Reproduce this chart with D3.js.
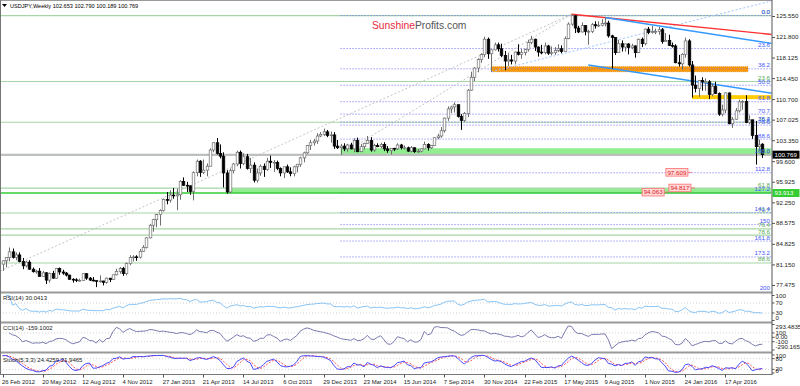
<!DOCTYPE html>
<html><head><meta charset="utf-8">
<script src="https://cdn.jsdelivr.net/npm/d3@7"></script>
<style>body{margin:0;background:#fff}svg{display:block}text{font-family:"Liberation Sans",Arial,sans-serif}</style>
</head><body><svg id="c" width="800" height="386"></svg>
<script>
// ---------------- DATA ----------------
const dateLabels = ["26 Feb 2012","20 May 2012","12 Aug 2012","4 Nov 2012","27 Jan 2013","21 Apr 2013","14 Jul 2013","6 Oct 2013","29 Dec 2013","23 Mar 2014","15 Jun 2014","7 Sep 2014","30 Nov 2014","22 Feb 2015","17 May 2015","9 Aug 2015","1 Nov 2015","24 Jan 2016","17 Apr 2016"];
const priceTicks = [125.55,121.8,118.125,114.45,110.7,107.025,103.35,99.6,95.925,92.25,88.575,84.825,81.15,77.475];

const closes = [81.80,82.40,83.40,82.40,82.85,81.65,80.90,81.55,80.30,79.85,
79.95,79.00,79.65,78.35,79.55,78.70,80.40,79.80,79.60,79.25,
78.50,78.40,78.30,78.30,79.50,78.70,78.35,78.25,78.10,78.20,
77.95,78.70,78.45,79.30,79.90,80.40,79.50,81.30,82.40,82.50,
82.45,83.50,84.20,85.90,88.15,89.15,90.05,90.80,92.75,92.65,
93.55,93.40,93.60,96.00,95.30,95.20,94.20,97.55,99.60,97.60,
98.00,98.70,101.60,102.90,101.00,100.50,97.50,94.10,97.90,99.10,
101.20,99.20,100.40,98.30,98.90,96.20,97.50,98.70,98.10,99.60,
99.40,99.40,98.30,97.50,98.60,97.70,97.40,98.60,99.05,100.20,
101.10,102.40,102.90,103.20,104.10,104.40,104.85,104.20,104.30,102.30,
102.00,102.30,101.80,102.50,101.80,103.30,101.30,102.20,102.80,103.30,
101.60,102.40,102.20,102.60,101.80,101.50,101.90,101.80,102.50,102.00,
102.00,101.40,102.00,101.30,101.40,101.80,102.60,102.00,102.40,103.80,
104.10,105.05,107.30,108.95,109.30,109.70,107.60,106.90,108.15,112.30,
114.60,116.25,117.75,118.65,121.40,118.80,119.50,120.40,119.70,118.50,
117.50,117.70,117.50,119.10,118.70,119.00,119.60,120.80,121.40,120.00,
119.10,119.00,120.20,118.90,119.00,119.40,119.70,119.20,121.50,124.10,
125.60,123.40,122.70,123.85,122.80,122.80,124.00,123.80,123.90,124.20,
124.30,122.00,121.70,119.00,120.60,120.00,120.55,119.90,120.20,119.00,
121.40,120.60,123.20,122.60,122.80,122.80,123.10,121.00,121.20,120.30,
120.20,117.20,117.00,118.70,121.10,116.80,113.20,112.60,114.00,113.80,
113.80,111.50,113.00,111.70,108.00,108.75,111.80,106.30,107.10,108.60,
110.20,110.30,106.50,107.00,104.20,102.20,102.50,100.769];

const highs = [81.87,82.45,84.18,84.00,83.30,83.30,82.30,81.80,81.90,80.60,
80.20,80.50,80.00,79.80,79.70,80.00,80.50,80.60,80.20,79.80,
79.30,78.70,78.70,78.60,79.60,79.60,78.90,78.90,78.30,79.20,
78.10,78.80,78.70,79.30,80.40,80.70,80.70,81.50,82.80,82.80,
82.80,83.90,84.60,86.00,88.40,89.30,90.20,91.00,92.90,94.10,
94.40,94.80,94.70,96.20,96.70,95.90,95.20,97.80,99.90,99.80,
99.90,99.20,101.90,103.00,103.74,102.60,101.20,98.00,98.30,99.30,
101.50,101.50,101.00,100.90,100.20,99.40,98.30,99.00,99.20,100.20,
100.60,99.80,99.70,98.50,98.60,99.00,98.50,98.80,99.10,100.40,
101.30,102.50,103.40,103.60,104.60,104.80,105.44,105.20,104.90,104.80,
103.40,102.70,102.80,102.70,102.90,103.70,103.80,102.70,102.90,104.10,
103.90,102.70,102.80,102.90,103.00,102.30,101.80,102.00,102.80,102.70,
102.40,102.20,102.30,102.10,101.80,101.90,103.10,102.80,102.50,103.90,
104.50,105.70,107.40,109.40,109.50,110.10,109.20,108.00,108.40,112.50,
115.60,116.40,118.00,118.90,121.85,121.70,119.60,120.80,120.80,120.60,
119.30,118.90,118.60,119.20,120.50,119.70,119.70,121.30,122.00,121.50,
120.10,120.40,120.80,120.40,120.10,120.00,120.50,120.30,121.90,124.40,
125.86,125.30,123.80,124.40,123.80,123.10,124.30,124.60,124.60,125.00,
125.30,124.70,122.20,121.70,121.30,121.20,120.60,120.70,120.60,120.30,
121.50,121.70,123.30,123.60,123.80,123.30,123.60,123.40,122.50,122.20,
120.80,120.50,118.60,118.90,121.69,121.40,117.50,114.90,114.00,114.60,
114.40,114.10,113.50,113.80,111.90,109.70,111.90,111.90,107.50,109.10,
110.60,110.50,111.40,107.80,107.00,106.80,103.50,102.79];

const lows = [80.00,80.62,81.70,82.20,81.90,81.55,80.30,80.60,80.20,79.70,
79.50,79.00,79.00,77.65,77.90,78.60,78.60,79.30,79.30,79.00,
78.40,77.90,78.00,78.10,78.20,78.40,78.20,78.10,77.10,77.90,
77.40,77.70,78.00,78.35,79.20,79.50,79.10,79.20,81.00,81.70,
81.80,82.20,83.40,84.00,85.80,87.00,87.80,88.10,90.60,91.90,
92.20,92.90,90.85,92.70,95.20,94.10,93.60,92.60,96.90,96.80,
97.30,96.90,98.70,101.20,100.80,100.10,94.90,93.79,93.90,97.40,
98.70,98.30,98.90,98.10,97.50,95.80,95.80,97.00,96.80,97.90,
98.40,97.70,98.00,96.90,96.60,97.50,96.90,96.90,97.60,98.60,
99.40,100.90,101.60,102.40,102.70,103.90,104.10,103.90,102.90,101.80,
101.80,100.75,101.40,101.30,101.70,101.20,101.20,101.20,101.70,102.70,
101.30,101.30,102.10,101.90,101.40,101.10,100.80,101.40,101.60,101.70,
101.70,101.30,101.20,101.10,101.10,101.20,101.80,101.50,101.80,102.30,
103.50,103.80,104.70,106.80,108.20,108.30,107.40,105.20,106.60,107.50,
112.20,113.90,115.50,117.20,118.20,117.90,115.57,119.40,119.20,118.20,
115.85,116.60,116.90,116.90,118.50,117.90,118.50,119.20,120.50,119.30,
118.30,118.70,118.70,118.60,118.50,118.60,119.10,118.90,119.20,121.40,
123.80,122.50,122.50,122.60,122.10,120.40,122.50,123.30,123.60,123.70,
123.70,121.70,116.15,118.60,119.00,119.20,119.20,118.70,119.60,118.10,
118.90,120.00,120.30,122.30,122.40,122.30,122.20,120.60,121.00,120.20,
119.90,117.10,116.50,115.97,118.10,116.50,110.98,111.90,111.10,112.20,
112.20,110.70,111.20,111.60,107.70,107.60,108.20,106.20,105.55,107.00,
108.30,108.80,106.40,106.20,103.60,99.00,101.50,100.189];

// weekly FX bars open at the prior week's close; first and last opens are read directly
const opens = [81.20, ...closes.slice(0, 226), 102.653];

const greenFibRatios = [0,23.6,38.2,50,61.8,70.7,76.4,78.6,88.6];
const greenFibAnchors = [125.62, 75.72];
const blueFibRatios = [0,23.6,38.2,50,61.8,70.7,76.4,78.6,88.6,100,112.8,127.2,141.4,150,161.8,173.2,200];
const blueFibAnchors = [125.62, 100.72];
const blueFibStart = 101;

const zones = [
  {from:101, to:null, hi:101.92, lo:100.72, color:"#90ee90"},
  {from:67, to:null, hi:94.75, lo:93.95, color:"#90ee90"},
  {from:146, to:222.7, hi:116.49, lo:115.60, color:"#ff9900"},
  {from:206, to:null, hi:111.40, lo:110.70, color:"#ffcc00"}
];
const trendLines = [
  {i0:-17, p0:75.57, i1:170, p1:125.86, color:"#c4c4c4", dash:"2,2", w:1},
  {i0:101, p0:100.75, i1:170, p1:125.86, color:"#c4c4c4", dash:"2,2", w:1},
  {i0:146, p0:115.57, i1:232, p1:128.58, color:"#9fc3ff", dash:"2,2", w:1},
  {i0:170, p0:125.86, i1:232, p1:122.13, color:"#ff3030", dash:null, w:1.4},
  {i0:180, p0:125.28, i1:232, p1:120.45, color:"#3399ff", dash:null, w:1.4},
  {i0:175, p0:116.79, i1:232, p1:111.55, color:"#3399ff", dash:null, w:1.4}
];
const priceTags = [{i:198.2, p:97.609},{i:199.1, p:94.817},{i:191.1, p:94.063}];
const lastPrice = 100.769, supportLine = 93.913;
const titleText = "USDJPY,Weekly  102.653 102.790 100.189 100.769";
const rsiLabel = "RSI(14) 30.0413", cciLabel = "CCI(14) -159.1002", stochLabel = "Stoch(5,3,3) 24.4259 21.9465";
const rsiTicks = [100,70,30,0], cciTicks = [293.4835,100,0,-100,-290.1653], stochTicks = [100,80,20,0];

// ---------------- SCALES ----------------
const svg = d3.select("#c");
const R = 771.5;
const x = d3.scaleLinear().domain([0,227]).range([2.5,762.3]);
const y = d3.scaleLinear().domain([77.475,125.55]).range([285,16]);
const yR = d3.scaleLinear().domain([0,100]).range([320.5,295.5]);
const yC = d3.scaleLinear().domain([-290.1653,293.4835]).range([350,324.5]);
const yS = d3.scaleLinear().domain([0,100]).range([373,355]);

svg.append("rect").attr("width",800).attr("height",386).attr("fill","#fff");
const defs = svg.append("defs");
function clip(id,y0,y1){defs.append("clipPath").attr("id",id).append("rect").attr("x",0.5).attr("y",y0).attr("width",R-0.5).attr("height",y1-y0);}
clip("cm",1,291.5); clip("cr",294,321.5); clip("cc",324,351.5); clip("cs",354,374);
const gm = svg.append("g").attr("clip-path","url(#cm)");

// zones
zones.forEach(z=>{
  const x0 = x(z.from), x1 = z.to==null ? R : x(z.to);
  gm.append("rect").attr("x",x0).attr("y",y(z.hi)).attr("width",x1-x0).attr("height",y(z.lo)-y(z.hi))
    .attr("fill",z.color).attr("stroke",z.color==="#ff9900"?"#d87a00":"none").attr("stroke-width",0.8).attr("stroke-dasharray",z.color==="#ff9900"?"1,1":null);
});
// green fib
const gp = r => greenFibAnchors[0]-r/100*(greenFibAnchors[0]-greenFibAnchors[1]);
const bp = r => blueFibAnchors[0]-r/100*(blueFibAnchors[0]-blueFibAnchors[1]);
greenFibRatios.forEach(r=>{
  gm.append("line").attr("x1",0).attr("x2",R).attr("y1",y(gp(r))).attr("y2",y(gp(r))).attr("stroke","#a6d6a6").attr("stroke-width",1.2);
});
blueFibRatios.forEach(r=>{
  gm.append("line").attr("x1",x(blueFibStart)).attr("x2",R).attr("y1",y(bp(r))).attr("y2",y(bp(r))).attr("stroke","#6a6aff").attr("stroke-width",1).attr("stroke-dasharray","1,2");
});
// bid line and support line
gm.append("line").attr("x1",0).attr("x2",R).attr("y1",y(lastPrice)).attr("y2",y(lastPrice)).attr("stroke","#bdbdbd").attr("stroke-width",2);
gm.append("line").attr("x1",0).attr("x2",R).attr("y1",y(supportLine)).attr("y2",y(supportLine)).attr("stroke","#33cc33").attr("stroke-width",1.6);
// trend lines
trendLines.forEach(t=>{
  gm.append("line").attr("x1",x(t.i0)).attr("y1",y(t.p0)).attr("x2",x(t.i1)).attr("y2",y(t.p1))
    .attr("stroke",t.color).attr("stroke-width",t.w).attr("stroke-dasharray",t.dash);
});
// candles
const bars = d3.range(closes.length).map(i=>({i,o:opens[i],h:highs[i],l:lows[i],c:closes[i]}));
const cg = gm.append("g");
bars.forEach(b=>{
  const up = b.c>=b.o, cx = Math.round(x(b.i))+0.5;
  cg.append("line").attr("x1",cx).attr("x2",cx).attr("y1",y(Math.max(b.h,b.o,b.c))).attr("y2",y(Math.min(b.l,b.o,b.c)))
    .attr("stroke",up?"#6e6e6e":"#000").attr("stroke-width",1);
  const top = y(Math.max(b.o,b.c)), bot = y(Math.min(b.o,b.c));
  cg.append("rect").attr("x",cx-1.3).attr("y",top).attr("width",2.6).attr("height",Math.max(0.8,bot-top))
    .attr("fill",up?"#fff":"#000").attr("stroke",up?"#6e6e6e":"#000").attr("stroke-width",0.7);
});
// price tags
priceTags.forEach(t=>{
  const px = x(t.i), py = y(t.p);
  gm.append("line").attr("x1",px+22).attr("x2",px+26).attr("y1",py).attr("y2",py).attr("stroke","#ff6060").attr("stroke-width",0.8);
  gm.append("rect").attr("x",px).attr("y",py-3.8).attr("width",22).attr("height",7.6).attr("fill","#ffd8d8").attr("stroke","#ff7070").attr("stroke-width",0.8);
  gm.append("text").attr("x",px+11).attr("y",py+2.2).attr("text-anchor","middle").attr("font-size",6.2).attr("fill","#e02020").text(t.p.toFixed(3));
});
// fib labels
greenFibRatios.forEach(r=>{
  gm.append("text").attr("x",770).attr("y",y(gp(r))-1.5).attr("text-anchor","end").attr("font-size",6.2).attr("fill","#55aa55").text(r.toFixed(1));
});
blueFibRatios.forEach(r=>{
  const lbl = (r===150||r===200)? String(r) : r.toFixed(1);
  const yy = Math.min(y(bp(r))-1.5, 290);
  svg.append("text").attr("x",770).attr("y",yy).attr("text-anchor","end").attr("font-size",6.2).attr("fill","#4455ff").text(lbl);
});
// watermark
const wm = svg.append("text").attr("x",372).attr("y",28.5).attr("font-size",10.3);
wm.append("tspan").attr("fill","#e8293b").text("Sunshine");
wm.append("tspan").attr("fill","#555").text("Profits.com");
// title
svg.append("path").attr("d","M2,4 L7,4 L4.5,7 Z").attr("fill","#000");
svg.append("text").attr("x",10).attr("y",8).attr("font-size",5.6).attr("fill","#000").text(titleText);

// ---------------- INDICATORS ----------------
function rsiCalc(c,n){const out=new Array(c.length).fill(null);let ag=0,al=0;for(let i=1;i<c.length;i++){const d=c[i]-c[i-1],g=d>0?d:0,l=d<0?-d:0;if(i<=n){ag+=(g-ag)/i;al+=(l-al)/i;}else{ag=(ag*(n-1)+g)/n;al=(al*(n-1)+l)/n;}out[i]=al===0?100:100-100/(1+ag/al);}return out;}
function cciCalc(h,l,c,n){const tp=c.map((v,i)=>(h[i]+l[i]+v)/3);const out=new Array(c.length).fill(null);for(let i=2;i<c.length;i++){const s=Math.max(0,i-n+1);const w=tp.slice(s,i+1);const m=d3.mean(w);const md=d3.mean(w,v=>Math.abs(v-m));out[i]=md===0?0:(tp[i]-m)/(0.015*md);}return out;}
function stochCalc(h,l,c,kp,sl,dp){const n=c.length,num=[],den=[];for(let i=0;i<n;i++){const s=Math.max(0,i-kp+1);const ll=d3.min(l.slice(s,i+1)),hh=d3.max(h.slice(s,i+1));num[i]=c[i]-ll;den[i]=hh-ll;}const k=[];for(let i=0;i<n;i++){const s=Math.max(0,i-sl+1);const a=d3.sum(num.slice(s,i+1)),b=d3.sum(den.slice(s,i+1));k[i]=b===0?50:100*a/b;}const d=k.map((v,i)=>d3.mean(k.slice(Math.max(0,i-dp+1),i+1)));return [k,d];}
const rsi = rsiCalc(closes,14), cci = cciCalc(highs,lows,closes,14), st = stochCalc(highs,lows,closes,5,3,3);

function level(g,ys,v){g.append("line").attr("x1",0).attr("x2",R).attr("y1",ys(v)).attr("y2",ys(v)).attr("stroke","#c8c8c8").attr("stroke-width",0.8).attr("stroke-dasharray","1,2");}
function series(g,arr,ys,color,w,dash){
  g.append("path").datum(arr).attr("fill","none").attr("stroke",color).attr("stroke-width",w).attr("stroke-dasharray",dash)
   .attr("d",d3.line().defined(v=>v!=null).x((v,i)=>x(i)).y(v=>ys(Math.max(ys.domain()[0],Math.min(ys.domain()[1],v)))));
}
const gr = svg.append("g").attr("clip-path","url(#cr)");
level(gr,yR,70); level(gr,yR,30);
series(gr,rsi,yR,"#87c3f5",1);
const gc = svg.append("g").attr("clip-path","url(#cc)");
level(gc,yC,100); level(gc,yC,-100);
series(gc,cci,yC,"#7a7ab0",1);
const gs = svg.append("g").attr("clip-path","url(#cs)");
level(gs,yS,80); level(gs,yS,20);
series(gs,st[1],yS,"#ff5050",1,"2,1.5");
series(gs,st[0],yS,"#4848ff",1);

svg.append("text").attr("x",3).attr("y",300).attr("font-size",6).attr("fill","#222").text(rsiLabel);
svg.append("text").attr("x",3).attr("y",330).attr("font-size",6).attr("fill","#222").text(cciLabel);
svg.append("text").attr("x",3).attr("y",362).attr("font-size",6).attr("fill","#222").text(stochLabel);

// ---------------- FRAME & AXES ----------------
[292.5,322.5,352.5].forEach(v=>svg.append("line").attr("x1",0).attr("x2",R+0.5).attr("y1",v).attr("y2",v).attr("stroke","#9a9a9a").attr("stroke-width",2.2));
svg.append("line").attr("x1",0).attr("x2",R+0.5).attr("y1",374.5).attr("y2",374.5).attr("stroke","#777").attr("stroke-width",1);
svg.append("line").attr("x1",0).attr("x2",R+0.5).attr("y1",0.5).attr("y2",0.5).attr("stroke","#9a9a9a").attr("stroke-width",1);
svg.append("line").attr("x1",0.5).attr("x2",0.5).attr("y1",0).attr("y2",375).attr("stroke","#777").attr("stroke-width",1);
svg.append("line").attr("x1",R+0.5).attr("x2",R+0.5).attr("y1",0).attr("y2",375).attr("stroke","#555").attr("stroke-width",1);

const ax = svg.append("g").attr("transform",`translate(${R+0.5},0)`)
  .call(d3.axisRight(y).tickValues(priceTicks).tickSize(3).tickFormat(d3.format(".3f")));
ax.select(".domain").remove();
ax.selectAll("text").attr("font-size",6.2).attr("fill","#222").attr("x",4);
ax.selectAll("line").attr("stroke","#555");

function indAxis(ys,ticks,fmt,lo,hi){
  ticks.forEach(v=>{
    const yy = Math.max(lo,Math.min(hi,ys(v)));
    svg.append("line").attr("x1",R+0.5).attr("x2",R+3).attr("y1",ys(v)).attr("y2",ys(v)).attr("stroke","#555");
    svg.append("text").attr("x",R+4).attr("y",yy+2).attr("font-size",6.2).attr("fill","#222").text(fmt(v));
  });
}
indAxis(yR,rsiTicks,v=>String(v),296,318);
indAxis(yC,cciTicks,v=>v===0?"0.00":String(v),326.5,347);
indAxis(yS,stochTicks,v=>String(v),356,371);

// price boxes on axis
function axisBox(p,fill,txtCol){
  const yy=y(p);
  svg.append("rect").attr("x",R+1).attr("y",yy-4).attr("width",27).attr("height",8).attr("fill",fill);
  svg.append("text").attr("x",R+3).attr("y",yy+2.3).attr("font-size",6.2).attr("fill",txtCol).text(p.toFixed(3));
}
axisBox(lastPrice,"#000","#fff");
axisBox(supportLine,"#33cc33","#fff");

// date axis
dateLabels.forEach((lbl,k)=>{
  const xi = x(k*12);
  svg.append("line").attr("x1",Math.round(xi)+0.5).attr("x2",Math.round(xi)+0.5).attr("y1",374.5).attr("y2",377.5).attr("stroke","#555");
  svg.append("text").attr("x",xi-0.5).attr("y",383.5).attr("font-size",5.9).attr("fill","#222").text(lbl);
});
</script></body></html>
